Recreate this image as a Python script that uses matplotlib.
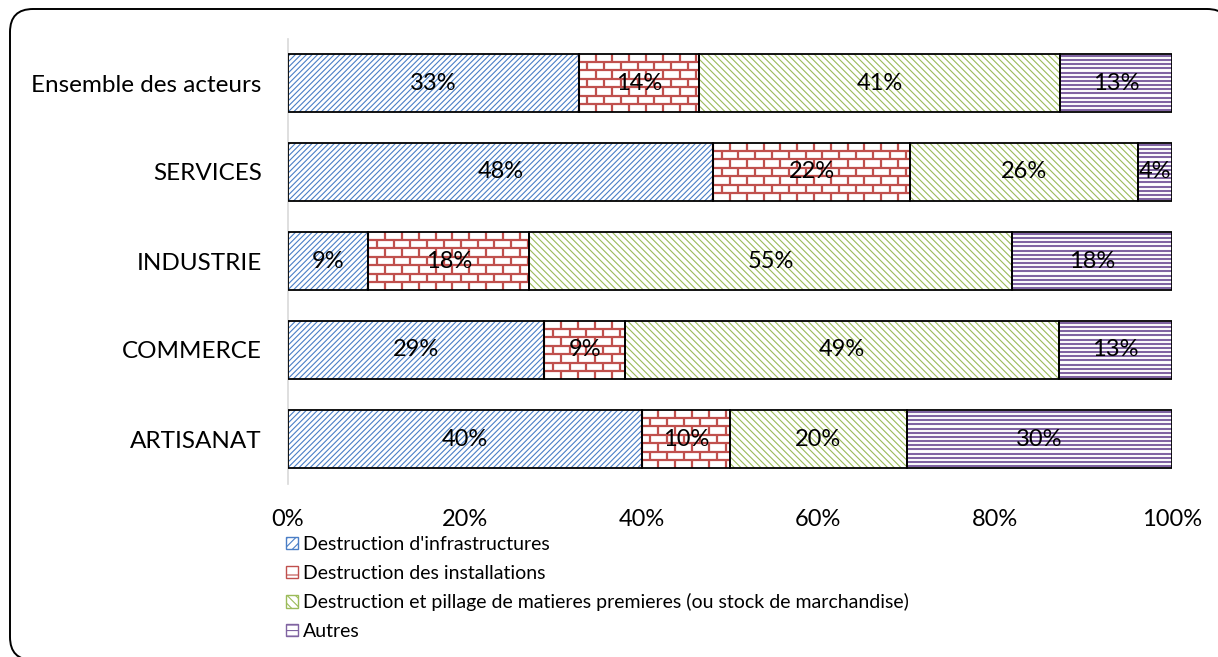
import matplotlib
matplotlib.use("Agg")
import matplotlib.pyplot as plt
import numpy as np
from matplotlib.patches import Patch, FancyBboxPatch
from matplotlib.collections import LineCollection

plt.rcParams["font.family"] = ["Lato", "DejaVu Sans"]
plt.rcParams["hatch.linewidth"] = 0.8

# categories, top to bottom
categories = ["Ensemble des acteurs", "SERVICES", "INDUSTRIE", "COMMERCE", "ARTISANAT"]
series_names = [
    "Destruction d'infrastructures",
    "Destruction des installations",
    "Destruction et pillage de matieres premieres (ou stock de marchandise)",
    "Autres",
]
# share of each damage type per category (%)
infrastructures = [32.9, 48.1, 9.1, 29.0, 40.0]
installations = [13.6, 22.3, 18.2, 9.1, 10.0]
matieres = [40.8, 25.8, 54.6, 49.1, 20.0]
autres = [12.7, 3.8, 18.1, 12.8, 30.0]
x_ticks = [0, 20, 40, 60, 80, 100]

series = [infrastructures, installations, matieres, autres]
colors = ["#4A7EC6", "#C0504D", "#9BBB59", "#8064A2"]
# "bricks" and "stripes" are textures drawn by hand below
hatches = ["//////", "bricks", "\\\\\\\\\\", "stripes"]

fig = plt.figure(figsize=(12.18, 6.57), dpi=100)

# rounded frame around the whole chart
bg = fig.add_axes([0, 0, 1, 1], zorder=-1)
bg.set_xlim(0, 1218)
bg.set_ylim(657, 0)
bg.set_axis_off()
bg.add_patch(FancyBboxPatch((10, 9), 1220, 651, boxstyle="round,pad=0,rounding_size=23",
                            facecolor="white", edgecolor="black", linewidth=1.4))

ax = fig.add_axes([288 / 1218, 1 - 483.5 / 657, 884 / 1218, 445 / 657])
ax.patch.set_alpha(0)

y = np.arange(len(categories))
bar_h = 0.66


def draw_bricks(ax, x0, width, yc, h, color):
    # brick texture: horizontal mortar lines plus staggered joints
    rows = 7
    brick_w = 1.9
    row_h = h / rows
    top = yc - h / 2
    segs = []
    for r in range(1, rows):
        yy = top + r * row_h
        segs.append([(x0, yy), (x0 + width, yy)])
    for r in range(rows):
        y0 = top + r * row_h
        off = 0 if r % 2 == 0 else brick_w / 2
        xx = x0 + off
        while xx < x0 + width:
            segs.append([(xx, y0), (xx, y0 + row_h)])
            xx += brick_w
    ax.add_collection(LineCollection(segs, colors=color, linewidths=1.6, zorder=2))


def draw_stripes(ax, x0, width, yc, h, color):
    # dense horizontal stripes
    n = 14
    top = yc - h / 2
    segs = [[(x0, top + (k + 0.5) * h / n), (x0 + width, top + (k + 0.5) * h / n)]
            for k in range(n)]
    ax.add_collection(LineCollection(segs, colors=color, linewidths=1.5, zorder=2))


left = np.zeros(len(categories))
for vals, col, hat in zip(series, colors, hatches):
    vals = np.array(vals)
    if hat in ("bricks", "stripes"):
        ax.barh(y, vals, left=left, height=bar_h, color="white", linewidth=0, zorder=1)
        painter = draw_bricks if hat == "bricks" else draw_stripes
        for xi, wi, yi in zip(left, vals, y):
            painter(ax, xi, wi, yi, bar_h, col)
    else:
        ax.barh(y, vals, left=left, height=bar_h, color="white", edgecolor=col,
                hatch=hat, linewidth=0, zorder=1)
    ax.barh(y, vals, left=left, height=bar_h, fill=False, edgecolor="black",
            linewidth=1.3, zorder=3)
    for xi, wi, yi in zip(left, vals, y):
        ax.text(xi + wi / 2, yi, f"{wi:.0f}%", ha="center", va="center",
                fontsize=17, color="black", zorder=4)
    left += vals

ax.set_xlim(0, 100)
ax.set_ylim(len(categories) - 0.5, -0.5)
ax.set_yticks(y)
ax.set_yticklabels(categories, fontsize=17.5)
ax.set_xticks(x_ticks)
ax.set_xticklabels([f"{t}%" for t in x_ticks], fontsize=17)
ax.tick_params(axis="x", length=0, pad=18)
ax.tick_params(axis="y", length=0, pad=19)
for s in ["top", "right", "bottom"]:
    ax.spines[s].set_visible(False)
ax.spines["left"].set_color("#D9D9D9")
ax.spines["left"].set_linewidth(1.2)

handles = [
    Patch(facecolor="white", edgecolor=colors[0], hatch="////"),
    Patch(facecolor="white", edgecolor=colors[1], hatch="-"),
    Patch(facecolor="white", edgecolor=colors[2], hatch="\\\\\\\\"),
    Patch(facecolor="white", edgecolor=colors[3], hatch="---"),
]
fig.legend(handles, series_names, loc="upper left", bbox_to_anchor=(286 / 1218, 1 - 536 / 657),
           frameon=False, fontsize=14, handlelength=0.6, handleheight=0.6,
           handletextpad=0.25, labelspacing=0.6, borderaxespad=0, borderpad=0)

fig.savefig("out.png", dpi=100)
